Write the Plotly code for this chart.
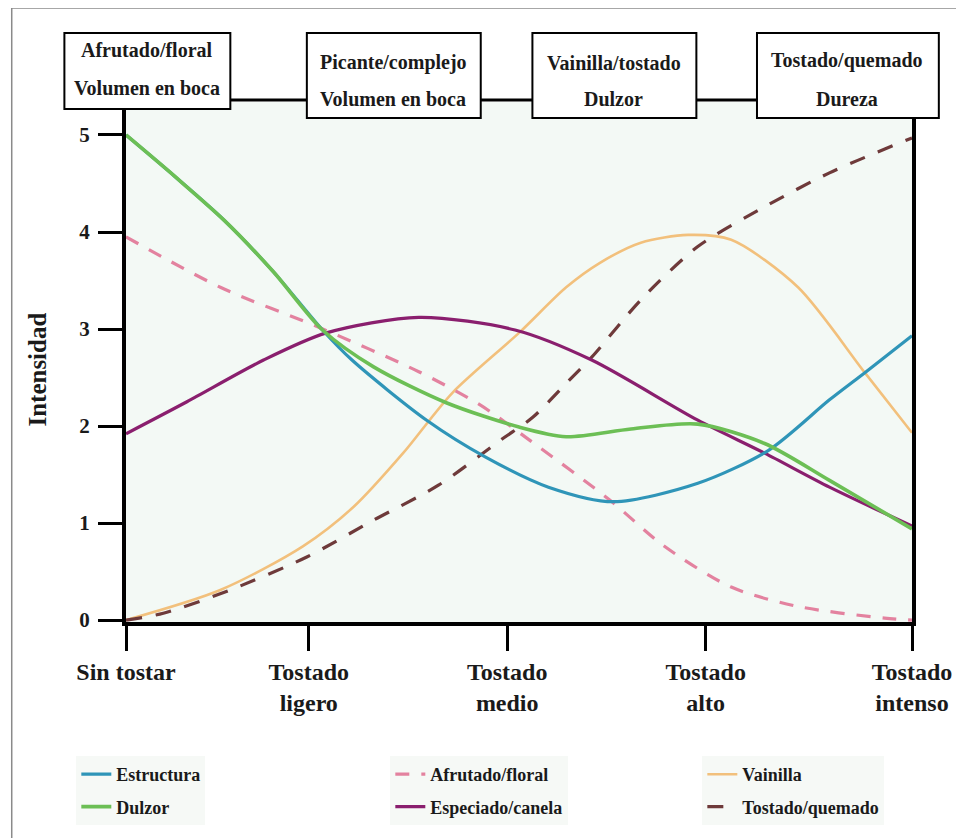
import plotly.graph_objects as go

# ---------------- data ----------------
tick_pos = [0, 0.93, 1.94, 2.95, 4]
tick_text = ["Sin tostar", "Tostado<br>ligero", "Tostado<br>medio", "Tostado<br>alto", "Tostado<br>intenso"]
y_ticks = [0, 1, 2, 3, 4, 5]

est_x = [0, 0.25, 0.5, 0.75, 1.0, 1.15, 1.53, 1.83, 2.15, 2.48, 2.91, 3.27, 3.58, 3.76, 4.0]
est_y = [5.0, 4.57, 4.12, 3.59, 2.99, 2.68, 2.06, 1.68, 1.37, 1.22, 1.41, 1.75, 2.27, 2.55, 2.93]

dul_x = [0, 0.25, 0.5, 0.75, 1.0, 1.26, 1.63, 2.0, 2.24, 2.57, 2.91, 3.25, 3.58, 4.0]
dul_y = [5.0, 4.57, 4.12, 3.59, 2.99, 2.61, 2.24, 1.99, 1.89, 1.97, 2.02, 1.82, 1.44, 0.94]

afr_x = [0, 0.48, 0.99, 1.49, 1.8, 2.05, 2.46, 2.74, 3.08, 3.42, 3.86, 4.0]
afr_y = [3.95, 3.43, 3.01, 2.56, 2.22, 1.86, 1.24, 0.76, 0.34, 0.14, 0.02, 0.0]

esp_x = [0, 0.31, 0.70, 1.02, 1.49, 1.98, 2.37, 2.91, 3.25, 3.58, 4.0]
esp_y = [1.92, 2.25, 2.68, 2.96, 3.12, 2.99, 2.68, 2.06, 1.72, 1.37, 0.97]

vai_x = [0, 0.48, 0.90, 1.16, 1.41, 1.66, 2.0, 2.24, 2.41, 2.62, 2.86, 3.08, 3.42, 3.76, 4.0]
vai_y = [0.0, 0.31, 0.76, 1.17, 1.72, 2.34, 2.96, 3.43, 3.68, 3.89, 3.97, 3.92, 3.43, 2.55, 1.93]

tos_x = [0, 0.19, 0.53, 0.92, 1.26, 1.59, 1.91, 2.07, 2.24, 2.37, 2.62, 2.91, 3.25, 3.58, 4.0]
tos_y = [0.0, 0.07, 0.31, 0.65, 1.03, 1.39, 1.86, 2.09, 2.44, 2.71, 3.30, 3.85, 4.26, 4.61, 4.97]

box_lines = [
    ["Afrutado/floral", "Volumen en boca"],
    ["Picante/complejo", "Volumen en boca"],
    ["Vainilla/tostado", "Dulzor"],
    ["Tostado/quemado", "Dureza"],
]

# ---------------- layout geometry (screen pixels; page has an 8px body margin) ----------------
OFF = 8
W, H = 964 - OFF, 838 - OFF
L, R, T, B = 126 - OFF, 47, 102 - OFF, 216
PW, PH = W - L - R, H - T - B


def px(x):
    return (x - OFF - L) / PW


def py(y):
    return (H - B - (y - OFF)) / PH


FONT = "Liberation Serif, Times New Roman, serif"
TXT = "#1a1a1a"

fig = go.Figure()

series = [
    ("Estructura", est_x, est_y, "#2f95b8", "solid", 3.2, "legend"),
    ("Dulzor", dul_x, dul_y, "#6cbf55", "solid", 3.6, "legend"),
    ("Afrutado/floral", afr_x, afr_y, "#e3829f", "14px,12px", 3.2, "legend2"),
    ("Especiado/canela", esp_x, esp_y, "#8a1f6e", "solid", 3.2, "legend2"),
    ("Vainilla", vai_x, vai_y, "#f2c07c", "solid", 2.6, "legend3"),
    ("Tostado/quemado", tos_x, tos_y, "#6e3a3a", "16px,14px", 3.2, "legend3"),
]
draw_order = [4, 5, 2, 3, 0, 1]
for i in draw_order:
    name, xs, ys, col, dash, w, lg = series[i]
    fig.add_trace(go.Scatter(
        x=xs, y=ys, mode="lines", name=name,
        line=dict(color=col, width=w, dash=dash, shape="spline", smoothing=0.8),
        legend=lg, legendgroup=name, legendrank=i,
    ))

# ---------------- shapes ----------------
shapes = []
shapes.append(dict(type="line", xref="paper", yref="paper", x0=px(11), x1=px(11), y0=py(8), y1=py(845),
                   line=dict(color="#8a8a8a", width=1.5)))
shapes.append(dict(type="line", xref="paper", yref="paper", x0=px(11), x1=px(970), y0=py(8), y1=py(8),
                   line=dict(color="#8a8a8a", width=1.5)))
shapes.append(dict(type="line", xref="paper", yref="paper", x0=px(231), x1=px(761), y0=py(100), y1=py(100),
                   line=dict(color="black", width=3), layer="above"))
boxes = [(64, 231, 33, 109), (308, 483, 33, 118), (535, 700, 33, 118), (761, 944, 33, 118)]
for (x0, x1, y0, y1) in boxes:
    shapes.append(dict(type="rect", xref="paper", yref="paper", x0=px(x0), x1=px(x1), y0=py(y0), y1=py(y1),
                       line=dict(color="black", width=2), fillcolor="white", layer="above"))

annotations = []
text_pos = [((147, 50), (147, 88)), ((395, 62), (395, 99)), ((617, 63), (617, 99)), ((852, 60), (852, 99))]
for lines, pos in zip(box_lines, text_pos):
    for t, (cx, cy) in zip(lines, pos):
        annotations.append(dict(text=t, xref="paper", yref="paper", x=px(cx), y=py(cy), showarrow=False,
                                xanchor="center", yanchor="middle",
                                font=dict(family=FONT, size=20, color=TXT, weight="bold")))
annotations.append(dict(text="Intensidad", xref="paper", yref="paper", x=px(36), y=py(370), showarrow=False,
                        textangle=-90, xanchor="center", yanchor="middle",
                        font=dict(family=FONT, size=25, color=TXT, weight="bold")))

leg_font = dict(family=FONT, size=18, color=TXT, weight="bold")
leg_common = dict(orientation="v", xanchor="left", yanchor="top", y=py(756), font=leg_font,
                  bgcolor="rgba(236,242,236,0.45)", borderwidth=0, traceorder="grouped", tracegroupgap=6)

fig.update_layout(
    width=W, height=H,
    margin=dict(l=L, r=R, t=T, b=B),
    paper_bgcolor="white",
    plot_bgcolor="#f3f9f5",
    showlegend=True,
    legend=dict(x=px(76), **leg_common),
    legend2=dict(x=px(392), **leg_common),
    legend3=dict(x=px(706), **leg_common),
    shapes=shapes,
    annotations=annotations,
    xaxis=dict(range=[0, 4], tickvals=tick_pos, ticktext=tick_text, showgrid=False, zeroline=False,
               showline=True, linecolor="black", linewidth=4, ticks="outside", ticklen=25, tickwidth=3,
               tickcolor="black", tickfont=dict(family=FONT, size=24, color=TXT, weight="bold")),
    yaxis=dict(range=[-0.02, 5.34], tickvals=y_ticks, showgrid=False, zeroline=False,
               showline=True, mirror=True, linecolor="black", linewidth=4, ticks="outside", ticklen=24,
               tickwidth=3, tickcolor="black", ticklabelstandoff=4,
               tickfont=dict(family=FONT, size=21, color=TXT, weight="bold")),
)

fig.write_html("out.html")
